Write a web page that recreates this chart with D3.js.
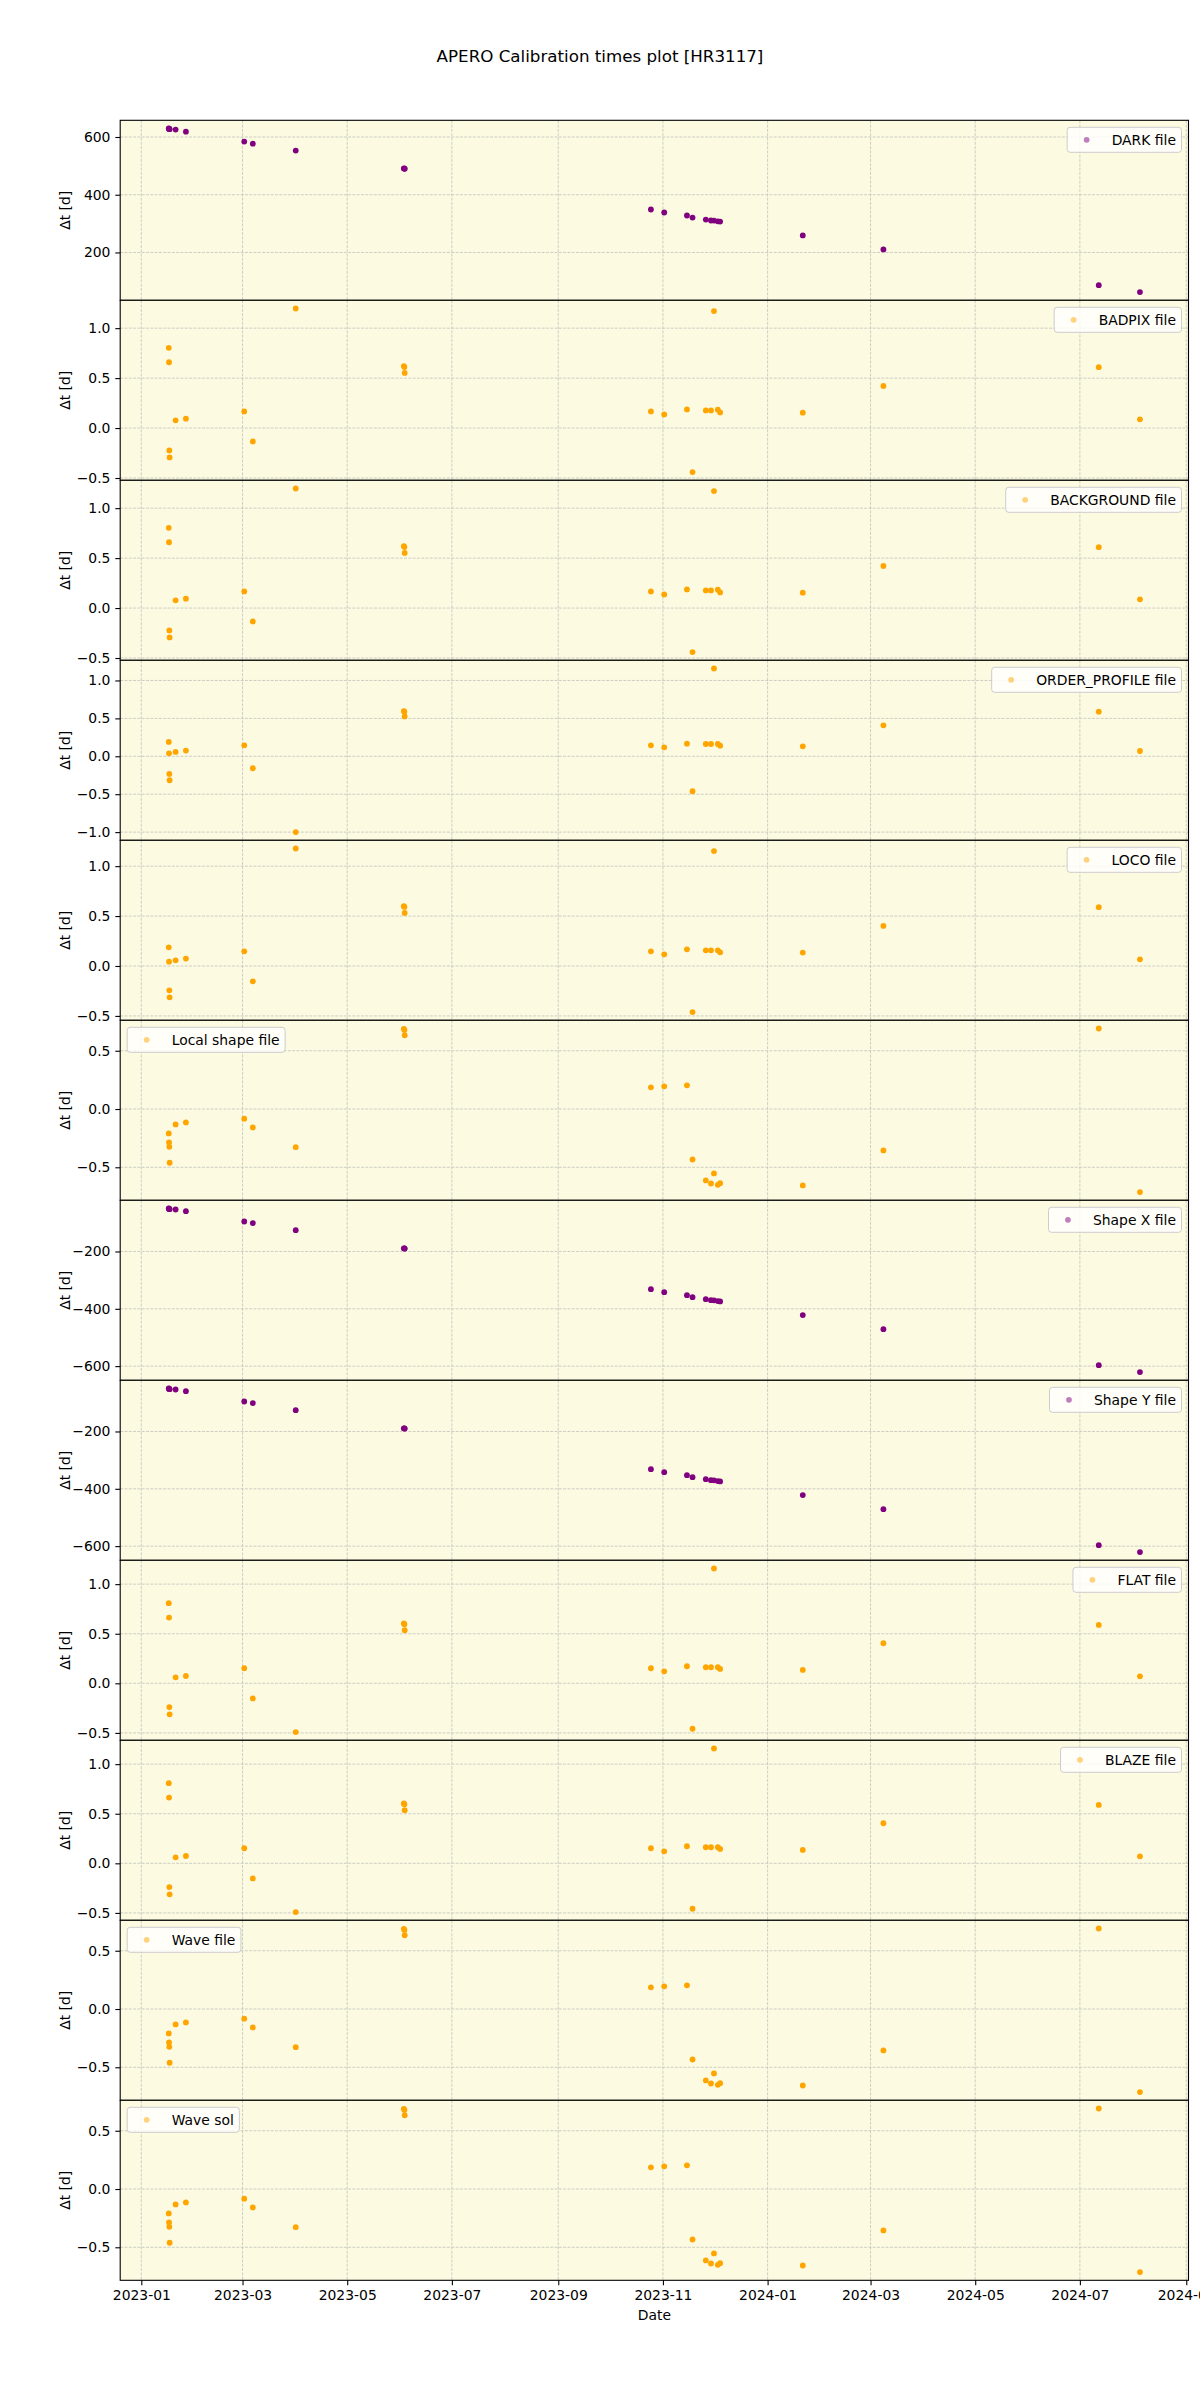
<!DOCTYPE html>
<html><head><meta charset="utf-8">
<script src="https://cdn.jsdelivr.net/npm/d3@7"></script>
<style>
body{margin:0;background:#fff}
svg{display:block}
text{font-family:"DejaVu Sans",sans-serif;fill:#000}
</style>
</head><body>
<svg id="chart" width="1200" height="2400"></svg>
<script>
// ---------- data ----------
const chartTitle = "APERO Calibration times plot [HR3117]";
const obsDates = [
  "2023-01-17T00:00","2023-01-17T04:00","2023-01-17T08:00","2023-01-17T12:00",
  "2023-01-21T00:00","2023-01-27T00:00","2023-03-02T00:00","2023-03-07T00:00",
  "2023-04-01T00:00","2023-06-03T00:00","2023-06-03T08:00","2023-06-03T12:00",
  "2023-10-25T00:00","2023-11-01T18:00","2023-11-15T00:00","2023-11-18T06:00",
  "2023-11-26T00:00","2023-11-29T00:00","2023-11-30T18:00","2023-12-03T00:00",
  "2023-12-04T08:00","2024-01-21T12:00","2024-03-08T12:00","2024-07-12T00:00",
  "2024-08-05T00:00"
];
const darkValues = [629.5,629,627.5,627,625.6,618.6,584,577,553,491,490.5,490,
  348.8,338.4,328,321,314,310.7,310.5,308,307,259,210.6,86.8,62.6];
const badpixValues = [0.803,0.659,-0.224,-0.294,0.077,0.094,0.167,-0.134,1.197,0.62,0.61,0.552,
  0.167,0.137,0.187,-0.441,0.177,0.177,1.171,0.184,0.157,0.154,0.421,0.609,0.087];
const backgroundValues = [0.803,0.659,-0.224,-0.294,0.077,0.094,0.167,-0.134,1.197,0.62,0.61,0.552,
  0.167,0.137,0.187,-0.441,0.177,0.177,1.171,0.184,0.157,0.154,0.421,0.609,0.087];
const orderProfileValues = [0.189,0.039,-0.232,-0.316,0.057,0.075,0.145,-0.158,-1.0,0.596,0.588,0.526,
  0.145,0.118,0.167,-0.461,0.162,0.162,1.158,0.162,0.140,0.132,0.408,0.588,0.070];
const locoValues = [0.187,0.043,-0.244,-0.314,0.057,0.074,0.147,-0.154,1.177,0.599,0.592,0.532,
  0.147,0.117,0.167,-0.462,0.157,0.157,1.151,0.157,0.137,0.134,0.401,0.589,0.067];
const localShapeValues = [-0.209,-0.287,-0.324,-0.461,-0.132,-0.115,-0.083,-0.158,-0.327,0.688,0.679,0.633,
  0.186,0.195,0.203,-0.433,-0.613,-0.639,-0.553,-0.650,-0.636,-0.656,-0.355,0.691,-0.713];
const shapeXValues = [-50,-50.5,-52,-52.5,-53.6,-59.5,-95.4,-101,-125.7,-189,-189.5,-190,
  -331.5,-341.9,-352.4,-359.4,-366.3,-369.8,-370.5,-373,-374.4,-422,-471,-596.6,-620.9];
const shapeYValues = [-50,-50.5,-52,-52.5,-53.6,-59.5,-95.4,-101,-125.7,-189,-189.5,-190,
  -331.5,-341.9,-352.4,-359.4,-366.3,-369.8,-370.5,-373,-374.4,-422,-471,-596.6,-620.9];
const flatValues = [0.808,0.663,-0.239,-0.313,0.061,0.074,0.152,-0.152,-0.492,0.603,0.596,0.535,
  0.152,0.121,0.172,-0.458,0.162,0.162,1.158,0.162,0.145,0.135,0.404,0.589,0.071];
const blazeValues = [0.808,0.663,-0.239,-0.313,0.061,0.074,0.152,-0.152,-0.492,0.603,0.596,0.535,
  0.152,0.121,0.172,-0.458,0.162,0.162,1.158,0.162,0.145,0.135,0.404,0.589,0.071];
const waveFileValues = [-0.209,-0.287,-0.324,-0.461,-0.132,-0.115,-0.083,-0.158,-0.327,0.688,0.679,0.633,
  0.186,0.195,0.203,-0.433,-0.613,-0.639,-0.553,-0.650,-0.636,-0.656,-0.355,0.691,-0.713];
const waveSolValues = [-0.209,-0.287,-0.324,-0.461,-0.132,-0.115,-0.083,-0.158,-0.327,0.688,0.679,0.633,
  0.186,0.195,0.203,-0.433,-0.613,-0.639,-0.553,-0.650,-0.636,-0.656,-0.355,0.691,-0.713];

const seriesLabels = ["DARK file","BADPIX file","BACKGROUND file","ORDER_PROFILE file","LOCO file",
  "Local shape file","Shape X file","Shape Y file","FLAT file","BLAZE file","Wave file","Wave sol"];
const seriesValues = [darkValues,badpixValues,backgroundValues,orderProfileValues,locoValues,
  localShapeValues,shapeXValues,shapeYValues,flatValues,blazeValues,waveFileValues,waveSolValues];
const seriesGroup = ["dark","calib","calib","calib","calib","calib","dark","dark","calib","calib","calib","calib"];
const legendSide = ["right","right","right","right","right","left","right","right","right","right","left","left"];

const tickDark = [200,400,600];
const tickCalib = [-0.5,0.0,0.5,1.0];
const tickOrder = [-1.0,-0.5,0.0,0.5,1.0];
const tickLocal = [-0.5,0.0,0.5];
const tickShape = [-600,-400,-200];
const seriesTicks = [tickDark,tickCalib,tickCalib,tickOrder,tickCalib,tickLocal,tickShape,tickShape,
  tickCalib,tickCalib,tickLocal,tickLocal];
const xLabel = "Date";
const yLabel = "Δt [d]";

// ---------- layout / style ----------
const W = 1200, H = 2400;
const left = 120.2, right = 1188.5, top0 = 120.3, panelH = 180;
const bg = "#fcfbe1";
const colors = {dark:"#800080", calib:"#ffa500"};
const FS = 13.9;

const svg = d3.select("#chart");
svg.append("rect").attr("width",W).attr("height",H).attr("fill","#fff");

svg.append("text").attr("x",600).attr("y",56).attr("text-anchor","middle")
  .attr("dominant-baseline","central").style("font-size","16.7px").text(chartTitle);

const parse = d3.utcParse("%Y-%m-%dT%H:%M");
const dates = obsDates.map(parse);
const [dmin,dmax] = d3.extent(dates);
const span = dmax - dmin;
const x = d3.scaleUtc()
  .domain([new Date(+dmin - 0.05*span), new Date(+dmax + 0.05*span)])
  .range([left, right]);
const xTicks = d3.utcMonth.range(new Date(Date.UTC(2023,0,1)), new Date(Date.UTC(2024,9,2)), 2);
const xFmt = d3.utcFormat("%Y-%m");

const n = seriesLabels.length;
for (let i = 0; i < n; i++) {
  const vals = seriesValues[i];
  const pTop = top0 + i*panelH, pBot = pTop + panelH;
  const [vmin,vmax] = d3.extent(vals);
  const vr = vmax - vmin;
  const y = d3.scaleLinear().domain([vmin - 0.05*vr, vmax + 0.05*vr]).range([pBot, pTop]);
  const g = svg.append("g");
  const clipId = "clip"+i;
  g.append("clipPath").attr("id",clipId).append("rect")
    .attr("x",left).attr("y",pTop).attr("width",right-left).attr("height",panelH);
  g.append("rect").attr("x",left).attr("y",pTop).attr("width",right-left).attr("height",panelH).attr("fill",bg);

  // grid
  const grid = g.append("g").attr("clip-path",`url(#${clipId})`)
    .attr("stroke","#b0b0b0").attr("stroke-width",0.8).attr("stroke-dasharray","3,1.3").attr("opacity",0.75);
  xTicks.forEach(t => grid.append("line").attr("x1",x(t)).attr("x2",x(t)).attr("y1",pTop).attr("y2",pBot));
  const ticks = seriesTicks[i];
  ticks.forEach(t => grid.append("line").attr("x1",left).attr("x2",right).attr("y1",y(t)).attr("y2",y(t)));

  // y axis
  const yAxis = d3.axisLeft(y).tickValues(ticks)
    .tickFormat(Math.abs(ticks[ticks.length-1]) >= 10 ? d3.format("d") : d3.format(".1f"))
    .tickSize(4.9).tickPadding(4.9);
  const ya = g.append("g").attr("transform",`translate(${left},0)`).call(yAxis);
  ya.select(".domain").remove();
  ya.selectAll("line").attr("stroke","#000").attr("stroke-width",1.1);
  ya.selectAll("text").style("font-size",FS+"px").style("font-family","DejaVu Sans");

  // points
  const col = colors[seriesGroup[i]];
  g.append("g").attr("clip-path",`url(#${clipId})`).selectAll("circle")
    .data(vals.map((v,k)=>({d:dates[k],v})))
    .join("circle").attr("cx",p=>x(p.d)).attr("cy",p=>y(p.v)).attr("r",2.9).attr("fill",col);

  // spines
  g.append("rect").attr("x",left).attr("y",pTop).attr("width",right-left).attr("height",panelH)
    .attr("fill","none").attr("stroke","#000").attr("stroke-width",1.1);

  // y label
  g.append("text").attr("transform",`translate(65,${pTop+panelH/2}) rotate(-90)`)
    .attr("text-anchor","middle").attr("dominant-baseline","central").style("font-size",FS+"px").text(yLabel);

  // legend
  const lg = g.append("g");
  const lt = lg.append("text").style("font-size",FS+"px").attr("dominant-baseline","central").text(seriesLabels[i]);
  const tw = lt.node().getComputedTextLength();
  const pad = 5.56, handle = 27.8, hpad = 11.1, lh = 25;
  const lw = pad + handle + hpad + tw + pad;
  const lx = legendSide[i] === "right" ? right - 7 - lw : left + 7;
  const ly = pTop + 7;
  lg.insert("rect","text").attr("x",lx).attr("y",ly).attr("width",lw).attr("height",lh)
    .attr("rx",3).attr("fill","#fff").attr("fill-opacity",0.8).attr("stroke","#cccccc").attr("stroke-width",1);
  lg.append("circle").attr("cx",lx+pad+handle/2).attr("cy",ly+lh/2).attr("r",2.9).attr("fill",col).attr("opacity",0.5);
  lt.attr("x",lx+pad+handle+hpad).attr("y",ly+lh/2+0.5);

  // bottom x axis
  if (i === n-1) {
    const xAxis = d3.axisBottom(x).tickValues(xTicks).tickFormat(xFmt).tickSize(4.9).tickPadding(4.9);
    const xa = g.append("g").attr("transform",`translate(0,${pBot})`).call(xAxis);
    xa.select(".domain").remove();
    xa.selectAll("line").attr("stroke","#000").attr("stroke-width",1.1);
    xa.selectAll("text").style("font-size",FS+"px").style("font-family","DejaVu Sans");
    g.append("text").attr("x",(left+right)/2).attr("y",2315).attr("text-anchor","middle")
      .attr("dominant-baseline","central").style("font-size",FS+"px").text(xLabel);
  }
}
</script>
</body></html>
